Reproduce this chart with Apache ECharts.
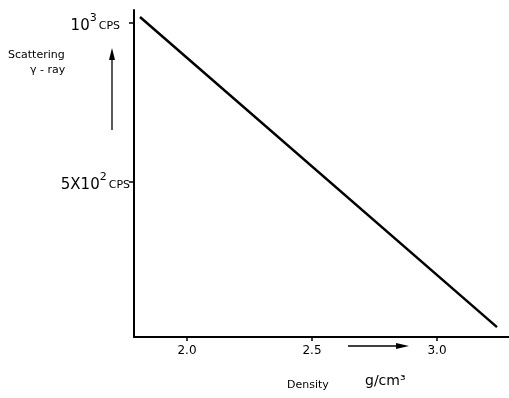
<!DOCTYPE html>
<html>
<head>
<meta charset="utf-8">
<script src="https://cdn.jsdelivr.net/npm/echarts@6/dist/echarts.min.js"></script>
<style>
  html, body { margin: 0; padding: 0; background: #fff; }
  #chart-container { width: 509px; height: 398px; }
</style>
</head>
<body>
<div id="chart-container"></div>
<script>
// density (g/cm3) vs scattering gamma-ray count rate (cps)
let density = [1.812, 3.24];
let counts = [1019, 44];
let xTicks = [2.0, 2.5, 3.0];
let xTickLabels = ["2.0", "2.5", "3.0"];
let yTicks = [500, 1000];
let yTickLabels = ["{b|5X10}{s|2}{c|CPS}", "{b|10}{s|3}{c|CPS}{g|}"];

let dom = document.getElementById("chart-container");
let myChart = echarts.init(dom, null, {
    renderer: "canvas",
    useDirtyRect: false,
});
let option;

option = {
    animation: false,
    backgroundColor: "#fff",
    grid: {
        left: 134,
        right: 0,
        top: 10,
        bottom: 61,
    },
    xAxis: {
        type: "value",
        min: 1.788,
        max: 3.288,
        axisLine: { show: true, lineStyle: { color: "#000", width: 2 } },
        axisTick: {
            show: true,
            inside: false,
            length: 4,
            customValues: xTicks,
            lineStyle: { color: "#000", width: 1.5 },
        },
        axisLabel: {
            customValues: xTicks,
            formatter: function (v) {
                return xTickLabels[xTicks.indexOf(Math.round(v * 10) / 10)];
            },
            color: "#000",
            fontFamily: "DejaVu Sans",
            fontSize: 12,
            margin: 8,
        },
        splitLine: { show: false },
    },
    yAxis: {
        type: "value",
        min: 13,
        max: 1041,
        axisLine: { show: true, lineStyle: { color: "#000", width: 2 } },
        axisTick: {
            show: true,
            inside: false,
            length: 5,
            customValues: yTicks,
            lineStyle: { color: "#000", width: 1.5 },
        },
        axisLabel: {
            customValues: yTicks,
            formatter: function (v) {
                return yTickLabels[yTicks.indexOf(v)];
            },
            margin: 4,
            color: "#000",
            rich: {
                b: { fontFamily: "DejaVu Sans", fontSize: 15, color: "#000", verticalAlign: "bottom" },
                s: { fontFamily: "DejaVu Sans", fontSize: 11, color: "#000", verticalAlign: "top", padding: [0, 0, 10, 0] },
                c: { fontFamily: "DejaVu Sans", fontSize: 11, color: "#000", verticalAlign: "bottom", padding: [0, 0, 2, 2] },
                g: { width: 10 },
            },
        },
        splitLine: { show: false },
    },
    graphic: [
        {
            type: "text",
            left: 8,
            top: 50,
            style: {
                text: "Scattering",
                font: "11px DejaVu Sans",
                fill: "#000",
            },
        },
        {
            type: "text",
            left: 30,
            top: 65,
            style: {
                text: "\u03b3 - ray",
                font: "11px DejaVu Sans",
                fill: "#000",
            },
        },
        {
            type: "line",
            shape: { x1: 112, y1: 130, x2: 112, y2: 54 },
            style: { stroke: "#000", lineWidth: 1.3 },
        },
        {
            type: "polygon",
            shape: { points: [[109, 60], [112, 48], [115, 60]] },
            style: { fill: "#000" },
        },
        {
            type: "line",
            shape: { x1: 348, y1: 346, x2: 402, y2: 346 },
            style: { stroke: "#000", lineWidth: 1.3 },
        },
        {
            type: "polygon",
            shape: { points: [[396, 343], [409, 346], [396, 349]] },
            style: { fill: "#000" },
        },
        {
            type: "text",
            left: 287,
            top: 380,
            style: {
                text: "Density",
                font: "11px DejaVu Sans",
                fill: "#000",
            },
        },
        {
            type: "text",
            left: 365,
            top: 374,
            style: {
                text: "g/cm\u00b3",
                font: "14px DejaVu Sans",
                fill: "#000",
            },
        },
    ],
    series: [
        {
            type: "line",
            data: density.map(function (d, i) { return [d, counts[i]]; }),
            showSymbol: false,
            lineStyle: { color: "#000", width: 2.5 },
        },
    ],
};

if (option && typeof option === "object") {
    myChart.setOption(option);
}

window.addEventListener("resize", myChart.resize);
</script>
</body>
</html>
